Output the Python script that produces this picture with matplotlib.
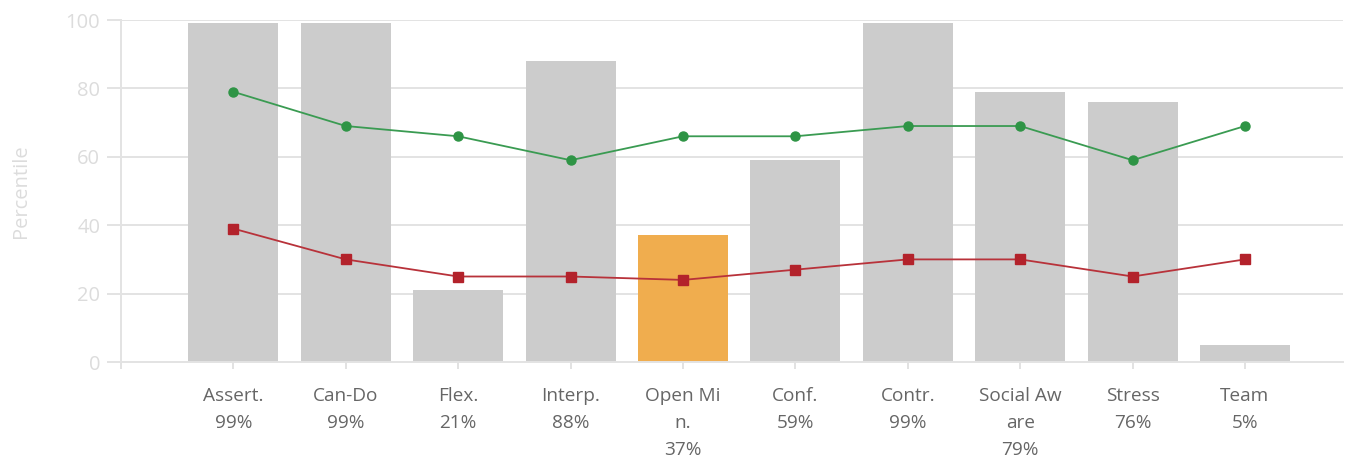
import matplotlib
matplotlib.use("Agg")
import matplotlib.pyplot as plt

categories = ["Assert.", "Can-Do", "Flex.", "Interp.", "Open Mi\nn.", "Conf.",
              "Contr.", "Social Aw\nare", "Stress", "Team"]
bar_values = [99, 99, 21, 88, 37, 59, 99, 79, 76, 5]
green_values = [79, 69, 66, 59, 66, 66, 69, 69, 59, 69]
red_values = [39, 30, 25, 25, 24, 27, 30, 30, 25, 30]
highlight_index = 4
y_ticks = [0, 20, 40, 60, 80, 100]

plt.rcParams['font.family'] = ['Open Sans', 'DejaVu Sans']

fig = plt.figure(figsize=(13.47, 4.62), dpi=100)
ax = fig.add_axes([121/1347, 1 - 362/462, (1343-121)/1347, (362-20)/462])

x = list(range(len(categories)))
colors = ['#f0ad4e' if i == highlight_index else '#cccccc' for i in x]
ax.bar(x, bar_values, width=0.8, color=colors, zorder=2)
ax.plot(x, green_values, color='#3a9b52', lw=1.3, marker='o', ms=6.5,
        markerfacecolor='#2e9445', markeredgecolor='#2e9445', zorder=3)
ax.plot(x, red_values, color='#b8323a', lw=1.3, marker='s', ms=6.5,
        markerfacecolor='#b3222b', markeredgecolor='#b3222b', zorder=3)

ax.set_xlim(-1.0, 9.872)
ax.set_ylim(0, 100)
ax.set_yticks(y_ticks)
ax.set_axisbelow(True)
ax.grid(axis='y', color='#e3e3e3', lw=1.4)

labels = [f"{c}\n{v}%" for c, v in zip(categories, bar_values)]
ax.set_xticks(x)
ax.set_xticklabels(labels, fontsize=13.7, color='#666666', linespacing=1.65)
ax.set_xticks([-1], minor=True)

ax.tick_params(axis='x', which='both', length=5, width=1.2, color='#dddddd', pad=13)
ax.tick_params(axis='y', length=10, width=1.4, color='#e3e3e3', labelsize=14.5,
               labelcolor='#dcdcdc', pad=5)

for s in ['top', 'right']:
    ax.spines[s].set_visible(False)
ax.spines['left'].set_color('#e3e3e3')
ax.spines['left'].set_linewidth(1.4)
ax.spines['bottom'].set_color('#e3e3e3')
ax.spines['bottom'].set_linewidth(1.4)

ax.set_ylabel("Percentile", fontsize=14.5, color='#dcdcdc')
ax.yaxis.set_label_coords(-(121-31)/1222, 0.5)

fig.savefig("out.png", dpi=100)
